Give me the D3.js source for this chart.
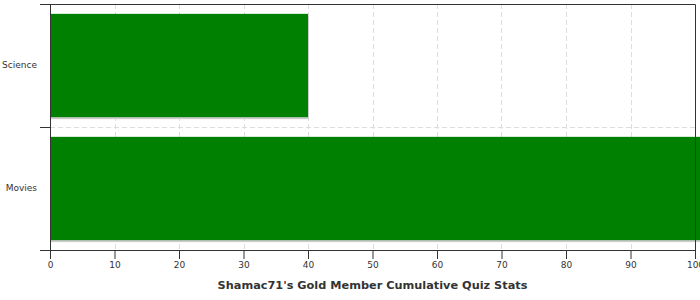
<!DOCTYPE html>
<html>
<head>
<meta charset="utf-8">
<script src="https://cdn.jsdelivr.net/npm/d3@7"></script>
<style>
  body { margin: 0; background: #fff; }
  text { font-family: "DejaVu Sans", sans-serif; fill: #333; }
</style>
</head>
<body>
<div id="chart"></div>
<script>
// chart data
var categories = ["Science", "Movies"];
var values = [40, 101];
var xTicks = [0, 10, 20, 30, 40, 50, 60, 70, 80, 90, 100];
var title = "Shamac71's Gold Member Cumulative Quiz Stats";

var width = 700, height = 300;
var plotLeft = 50, plotRight = 695, plotTop = 4, plotBottom = 250;

var svg = d3.select("#chart")
  .append("svg")
    .attr("width", width)
    .attr("height", height);

var xScale = d3.scaleLinear()
  .domain([0, 100])
  .range([plotLeft, plotRight]);

var yScale = d3.scaleBand()
  .domain(categories)
  .range([plotTop, plotBottom])
  .paddingInner(0.16)
  .paddingOuter(0.08);

// boundaries between categories
var yBound = d3.scaleLinear()
  .domain([0, categories.length])
  .range([plotTop, plotBottom]);

// grid lines
svg.append("g")
  .selectAll("line")
  .data(xTicks.slice(1, -1))
  .enter()
  .append("line")
    .attr("x1", d => Math.round(xScale(d)) + 0.5)
    .attr("x2", d => Math.round(xScale(d)) + 0.5)
    .attr("y1", plotTop)
    .attr("y2", plotBottom)
    .attr("stroke", "#ddd")
    .attr("stroke-dasharray", "5,3");

svg.append("g")
  .selectAll("line")
  .data(d3.range(1, categories.length))
  .enter()
  .append("line")
    .attr("x1", plotLeft)
    .attr("x2", plotRight)
    .attr("y1", d => Math.round(yBound(d)) + 0.5)
    .attr("y2", d => Math.round(yBound(d)) + 0.5)
    .attr("stroke", "#ddd")
    .attr("stroke-dasharray", "5,3");

// bar shadows then bars
svg.append("clipPath").attr("id", "clip")
  .append("rect").attr("x", plotLeft).attr("y", 0).attr("width", width - plotLeft).attr("height", plotBottom);

svg.append("g").attr("clip-path", "url(#clip)")
  .selectAll("rect")
  .data(categories)
  .enter()
  .append("rect")
    .attr("x", xScale(0) + 1)
    .attr("y", d => yScale(d) + 2)
    .attr("width", (d, i) => xScale(values[i]) - xScale(0))
    .attr("height", yScale.bandwidth())
    .attr("fill", "#ccc");

svg.append("g").attr("clip-path", "url(#clip)")
  .selectAll("rect")
  .data(categories)
  .enter()
  .append("rect")
    .attr("x", xScale(0))
    .attr("y", d => yScale(d))
    .attr("width", (d, i) => xScale(values[i]) - xScale(0))
    .attr("height", yScale.bandwidth())
    .attr("fill", "#008000");

// frame: top and right
svg.append("path")
  .attr("d", "M" + plotLeft + "," + (plotTop + 0.5) + "H" + (plotRight + 0.5) + "V" + plotBottom)
  .attr("fill", "none")
  .attr("stroke", "#333");

// left axis ticks at boundaries
var yAxisTicks = svg.append("g")
  .attr("transform", "translate(" + plotLeft + ",0)")
  .call(d3.axisLeft(yBound).tickValues(d3.range(0, categories.length + 1)).tickFormat("").tickSize(10).tickSizeOuter(0));
yAxisTicks.selectAll("line, path").attr("stroke", "#333");

// left axis labels
var yAxis = svg.append("g")
  .attr("transform", "translate(" + plotLeft + ",0)")
  .call(d3.axisLeft(yScale).tickSize(0).tickPadding(13));
yAxis.select(".domain").remove();
yAxis.selectAll("text")
  .attr("font-family", "DejaVu Sans, sans-serif")
  .attr("font-size", "9px")
  .attr("fill", "#222");

// bottom axis
var xAxis = svg.append("g")
  .attr("transform", "translate(0," + plotBottom + ")")
  .call(d3.axisBottom(xScale).tickValues(xTicks).tickSize(9).tickSizeOuter(0).tickPadding(3));
xAxis.selectAll("line, path").attr("stroke", "#333");
xAxis.select(".domain").attr("d", "M" + (plotLeft - 10) + ",0.5H" + plotRight);
xAxis.selectAll("text")
  .attr("font-family", "DejaVu Sans, sans-serif")
  .attr("font-size", "9px")
  .attr("fill", "#222");

// title
svg.append("text")
  .text(title)
  .attr("x", (plotLeft + plotRight) / 2)
  .attr("y", 289)
  .attr("text-anchor", "middle")
  .attr("font-family", "DejaVu Sans, sans-serif")
  .attr("font-size", "11.3px")
  .attr("font-weight", "bold")
  .attr("fill", "#333");
</script>
</body>
</html>
